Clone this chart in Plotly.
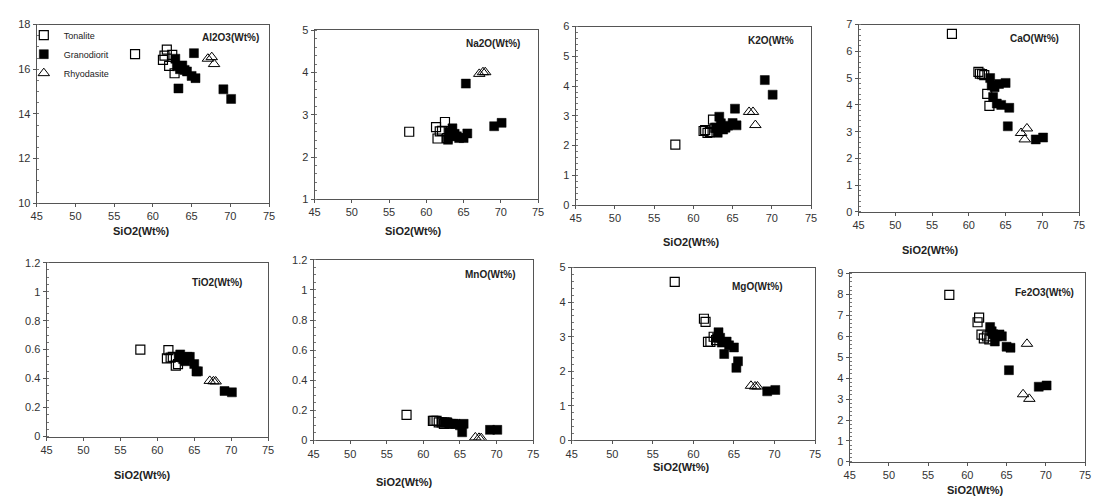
import plotly.graph_objects as go

W, H = 1096, 504

# ---------------- data (wt%) ----------------
ton_sio2 = [57.7, 61.3, 61.5, 61.8, 62.1, 62.5, 62.8]
ton_al2o3 = [16.68, 16.42, 16.61, 16.88, 16.15, 16.64, 15.82]
ton_na2o = [2.60, 2.71, 2.44, 2.61, 2.62, 2.83, 2.45]
ton_k2o = [2.03, 2.49, 2.52, 2.43, 2.45, 2.87, 2.60]
ton_cao = [6.65, 5.23, 5.17, 5.15, 5.11, 4.41, 3.96]
ton_tio2 = [0.60, 0.54, 0.596, 0.545, 0.55, 0.49, 0.50]
ton_mno = [0.17, 0.13, 0.13, 0.13, 0.12, 0.12, 0.11]
ton_mgo = [4.59, 3.52, 3.43, 2.85, 2.85, 3.00, 2.90]
ton_fe2o3 = [7.98, 6.67, 6.89, 6.08, 5.90, 6.00, 5.85]

gra_sio2 = [62.9, 63.1, 63.3, 63.5, 63.8, 64.1, 64.4, 65.0, 65.3, 65.5, 69.1, 70.1]
gra_al2o3 = [16.47, 16.13, 15.14, 16.00, 16.17, 15.97, 15.90, 15.70, 16.72, 15.60, 15.10, 14.67]
gra_na2o = [2.41, 2.60, 2.50, 2.68, 2.55, 2.49, 2.45, 2.45, 3.74, 2.56, 2.73, 2.81]
gra_k2o = [2.60, 2.43, 2.97, 2.75, 2.54, 2.60, 2.67, 2.76, 3.24, 2.68, 4.20, 3.71]
gra_cao = [5.00, 4.72, 4.29, 4.66, 4.05, 4.78, 4.00, 4.82, 3.20, 3.89, 2.71, 2.78]
gra_tio2 = [0.55, 0.567, 0.545, 0.534, 0.52, 0.55, 0.55, 0.50, 0.449, 0.45, 0.314, 0.305]
gra_mno = [0.12, 0.12, 0.12, 0.11, 0.11, 0.11, 0.11, 0.10, 0.054, 0.11, 0.07, 0.07]
gra_mgo = [2.97, 3.13, 2.97, 2.83, 2.50, 2.86, 2.75, 2.69, 2.10, 2.29, 1.42, 1.46]
gra_fe2o3 = [6.44, 6.24, 6.10, 5.75, 6.00, 6.09, 6.00, 5.50, 4.38, 5.45, 3.59, 3.65]

rhy_sio2 = [67.1, 67.6, 67.9]
rhy_al2o3 = [16.47, 16.54, 16.23]
rhy_na2o = [3.97, 4.01, 4.01]
rhy_k2o = [3.13, 3.13, 2.69]
rhy_cao = [2.95, 2.71, 3.12]
rhy_tio2 = [0.384, 0.381, 0.38]
rhy_mno = [0.02, 0.017, 0.015]
rhy_mgo = [1.58, 1.56, 1.56]
rhy_fe2o3 = [3.23, 5.64, 3.01]

oxide_labels = ["Al2O3(Wt%)", "Na2O(Wt%)", "K2O(Wt%", "CaO(Wt%)",
                "TiO2(Wt%)", "MnO(Wt%)", "MgO(Wt%)", "Fe2O3(Wt%)"]
y_ranges = [[10, 18], [1, 5], [0, 6], [0, 7], [0, 1.2], [0, 1.2], [0, 5], [0, 9]]
y_dticks = [2, 1, 1, 1, 0.2, 0.2, 1, 1]
x_range = [45, 75]
x_title = "SiO2(Wt%)"
group_names = ["Tonalite", "Granodiorit", "Rhyodasite"]

ton_vals = [ton_al2o3, ton_na2o, ton_k2o, ton_cao, ton_tio2, ton_mno, ton_mgo, ton_fe2o3]
gra_vals = [gra_al2o3, gra_na2o, gra_k2o, gra_cao, gra_tio2, gra_mno, gra_mgo, gra_fe2o3]
rhy_vals = [rhy_al2o3, rhy_na2o, rhy_k2o, rhy_cao, rhy_tio2, rhy_mno, rhy_mgo, rhy_fe2o3]

# ---------------- layout (pixel boxes) ----------------
boxes = [  # x0, x1, y0(top), y1(bottom)
    (31, 266, 19, 202),
    (312, 538, 25, 198),
    (576, 814, 21, 204),
    (862, 1085, 19, 211),
    (41, 265, 263, 441),
    (311, 533, 260, 445),
    (572, 818, 268, 445),
    (853, 1091, 274, 467),
]
xtitle_pos = [(137, 231), (412, 231), (693, 242), (935, 250),
              (138, 480), (403, 488), (683, 472), (980, 496)]
label_pos = [(227, 32), (492, 38), (773, 35), (1040, 33),
             (213, 283), (490, 275), (760, 287), (1050, 293)]

FONT = "Arial, Liberation Sans, sans-serif"
fig = go.Figure()

styles = [
    dict(symbol="square-open", size=9, color="black", line=dict(width=1.2, color="black")),
    dict(symbol="square", size=9, color="black", line=dict(width=0.5, color="black")),
    dict(symbol="triangle-up-open", size=10, color="black", line=dict(width=1.0, color="black")),
]
sio2s = [ton_sio2, gra_sio2, rhy_sio2]

layout = dict(width=W, height=H, margin=dict(l=0, r=0, t=0, b=0),
              paper_bgcolor="white", plot_bgcolor="white",
              font=dict(family=FONT, size=11, color="#222"))
annotations = []

for i in range(8):
    ax = "" if i == 0 else str(i + 1)
    x0, x1, yt, yb = boxes[i]
    vals = [ton_vals[i], gra_vals[i], rhy_vals[i]]
    for g in range(3):
        fig.add_trace(go.Scatter(
            x=sio2s[g], y=vals[g], mode="markers", name=group_names[g],
            marker=styles[g], showlegend=(i == 0),
            xaxis="x" + ax, yaxis="y" + ax))
    common = dict(showline=True, linecolor="#555", linewidth=1, mirror=True,
                  showgrid=False, zeroline=False, ticks="outside", ticklen=3,
                  tickcolor="#555", tickfont=dict(family=FONT, size=11, color="#333"))
    layout["xaxis" + ax] = dict(common, domain=[x0 / W, x1 / W], range=x_range,
                                dtick=5, tick0=45, anchor="y" + ax)
    layout["yaxis" + ax] = dict(common, domain=[1 - yb / H, 1 - yt / H], range=y_ranges[i],
                                dtick=y_dticks[i], tick0=y_ranges[i][0], anchor="x" + ax,
                                minor=dict(ticks="inside", ticklen=2, tickcolor="#777",
                                           nticks=5))
    tx, ty = xtitle_pos[i]
    annotations.append(dict(x=tx / W, y=1 - ty / H, xref="paper", yref="paper",
                            text="<b>" + x_title + "</b>", showarrow=False,
                            font=dict(family=FONT, size=11, color="#222"),
                            xanchor="center", yanchor="middle"))
    lx, ly = label_pos[i]
    annotations.append(dict(x=lx / W, y=1 - ly / H, xref="paper", yref="paper",
                            text="<b>" + oxide_labels[i] + "</b>", showarrow=False,
                            font=dict(family=FONT, size=10, color="#222"),
                            xanchor="center", yanchor="middle"))

layout["annotations"] = annotations
layout["legend"] = dict(x=18 / W, y=1 - 15 / H, xanchor="left", yanchor="top",
                        bgcolor="rgba(0,0,0,0)", font=dict(family=FONT, size=9, color="#222"),
                        tracegroupgap=0, itemwidth=30)
layout["showlegend"] = True
fig.update_layout(**layout)
fig.write_html("out.html")
